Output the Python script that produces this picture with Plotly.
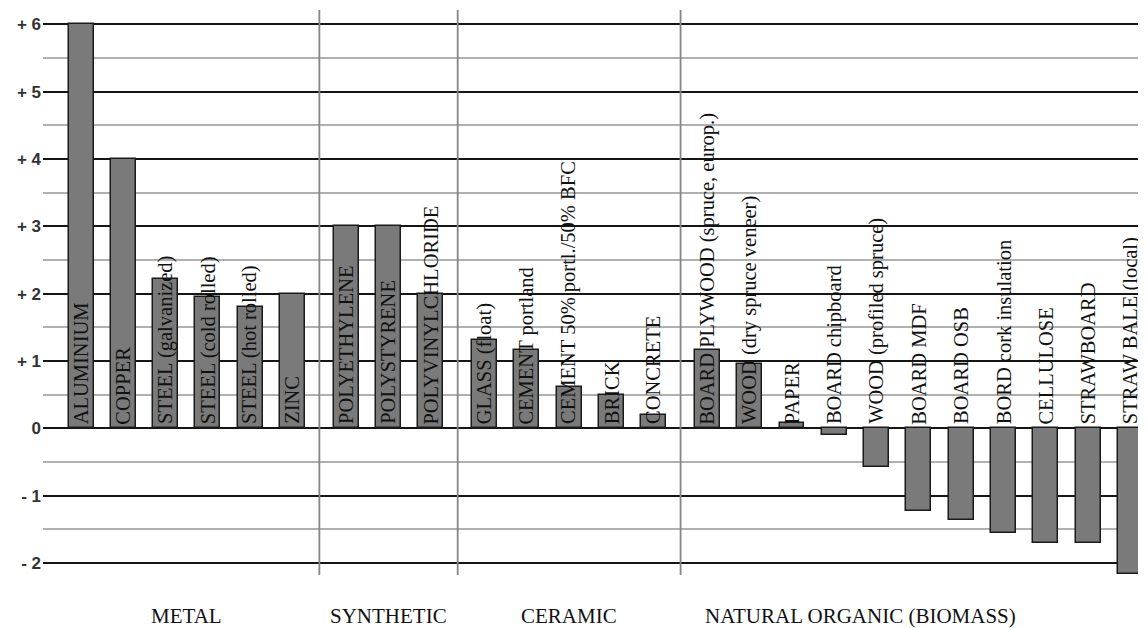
import plotly.graph_objects as go

# ---- data ----
materials = [
    "ALUMINIUM", "COPPER", "STEEL (galvanized)", "STEEL (cold rolled)", "STEEL (hot rolled)", "ZINC",
    "POLYETHYLENE", "POLYSTYRENE", "POLYVINYLCHLORIDE",
    "GLASS (float)", "CEMENT portland", "CEMENT 50% portl./50% BFC", "BRICK", "CONCRETE",
    "BOARD PLYWOOD (spruce, europ.)", "WOOD (dry spruce veneer)", "PAPER", "BOARD chipboard",
    "WOOD (profiled spruce)", "BOARD MDF", "BOARD OSB", "BORD cork insulation", "CELLULOSE",
    "STRAWBOARD", "STRAW BALE (local)",
]
values = [
    6.0, 4.0, 2.22, 1.95, 1.8, 2.0,
    3.0, 3.0, 2.0,
    1.31, 1.17, 0.61, 0.5, 0.19,
    1.17, 0.95, 0.08, -0.1,
    -0.57, -1.23, -1.37, -1.56, -1.7,
    -1.7, -2.17,
]
group_names = ["METAL", "SYNTHETIC", "CERAMIC", "NATURAL ORGANIC (BIOMASS)"]
group_sizes = [6, 3, 5, 11]
ytick_vals = [6, 5, 4, 3, 2, 1, 0, -1, -2]
ytick_text = ["+ 6", "+ 5", "+ 4", "+ 3", "+ 2", "+ 1", "0", "- 1", "- 2"]

# ---- positions (category slots with a small extra gap between groups) ----
GROUP_GAP = 0.27
group_of = []
for g, n in enumerate(group_sizes):
    group_of += [g] * n
xpos = [i + GROUP_GAP * g for i, g in enumerate(group_of)]

fig = go.Figure()
fig.add_trace(go.Bar(
    x=xpos, y=values, width=0.59,
    marker=dict(color="#7a7a7a", line=dict(color="#1a1a1a", width=1.5)),
    hovertext=materials, showlegend=False,
))

# bar labels (vertical, starting just above the zero line)
for x, name in zip(xpos, materials):
    fig.add_annotation(
        x=x, y=0, xref="x", yref="y", text=name, textangle=-90,
        showarrow=False, xanchor="center", yanchor="bottom", yshift=2,
        font=dict(family="Liberation Serif", size=20.5, color="#111"),
    )

# group separators and labels
starts = [sum(group_sizes[:g]) for g in range(len(group_sizes))]
for g in range(1, len(group_sizes)):
    sep = (xpos[starts[g] - 1] + xpos[starts[g]]) / 2
    fig.add_shape(type="line", xref="x", yref="paper", x0=sep, x1=sep, y0=0, y1=1,
                  line=dict(color="#858585", width=1.8), layer="above")

label_x = []
for g in range(len(group_sizes)):
    first, last = xpos[starts[g]], xpos[starts[g] + group_sizes[g] - 1]
    label_x.append((first + last) / 2)
label_x[3] = 18.42  # natural organic label sits left of its group centre
for gx, gname in zip(label_x, group_names):
    fig.add_annotation(
        x=gx, y=0, xref="x", yref="paper", text=gname, showarrow=False,
        xanchor="center", yanchor="middle", yshift=-41,
        font=dict(family="Liberation Serif", size=21, color="#111"),
    )

# page body has an 8px margin, so the figure is sized/offset to compensate
fig.update_layout(
    width=1138, height=620,
    margin=dict(l=35, r=0, t=2, b=53),
    paper_bgcolor="white", plot_bgcolor="white",
    bargap=0,
    xaxis=dict(range=[-0.9, 25.18], showgrid=False, zeroline=False,
               showticklabels=False, ticks="", showline=False, fixedrange=True),
    yaxis=dict(range=[-2.18, 6.215], tickvals=ytick_vals, ticktext=ytick_text,
               showgrid=True, gridcolor="#151515", gridwidth=2,
               zeroline=True, zerolinecolor="#151515", zerolinewidth=2,
               minor=dict(dtick=0.5, showgrid=True, gridcolor="#b0b0b0", gridwidth=2, ticks=""),
               ticks="", ticklabelstandoff=1, showline=False,
               tickfont=dict(family="Liberation Sans", size=17, color="#333", weight="bold")),
)

fig.write_html("out.html")
